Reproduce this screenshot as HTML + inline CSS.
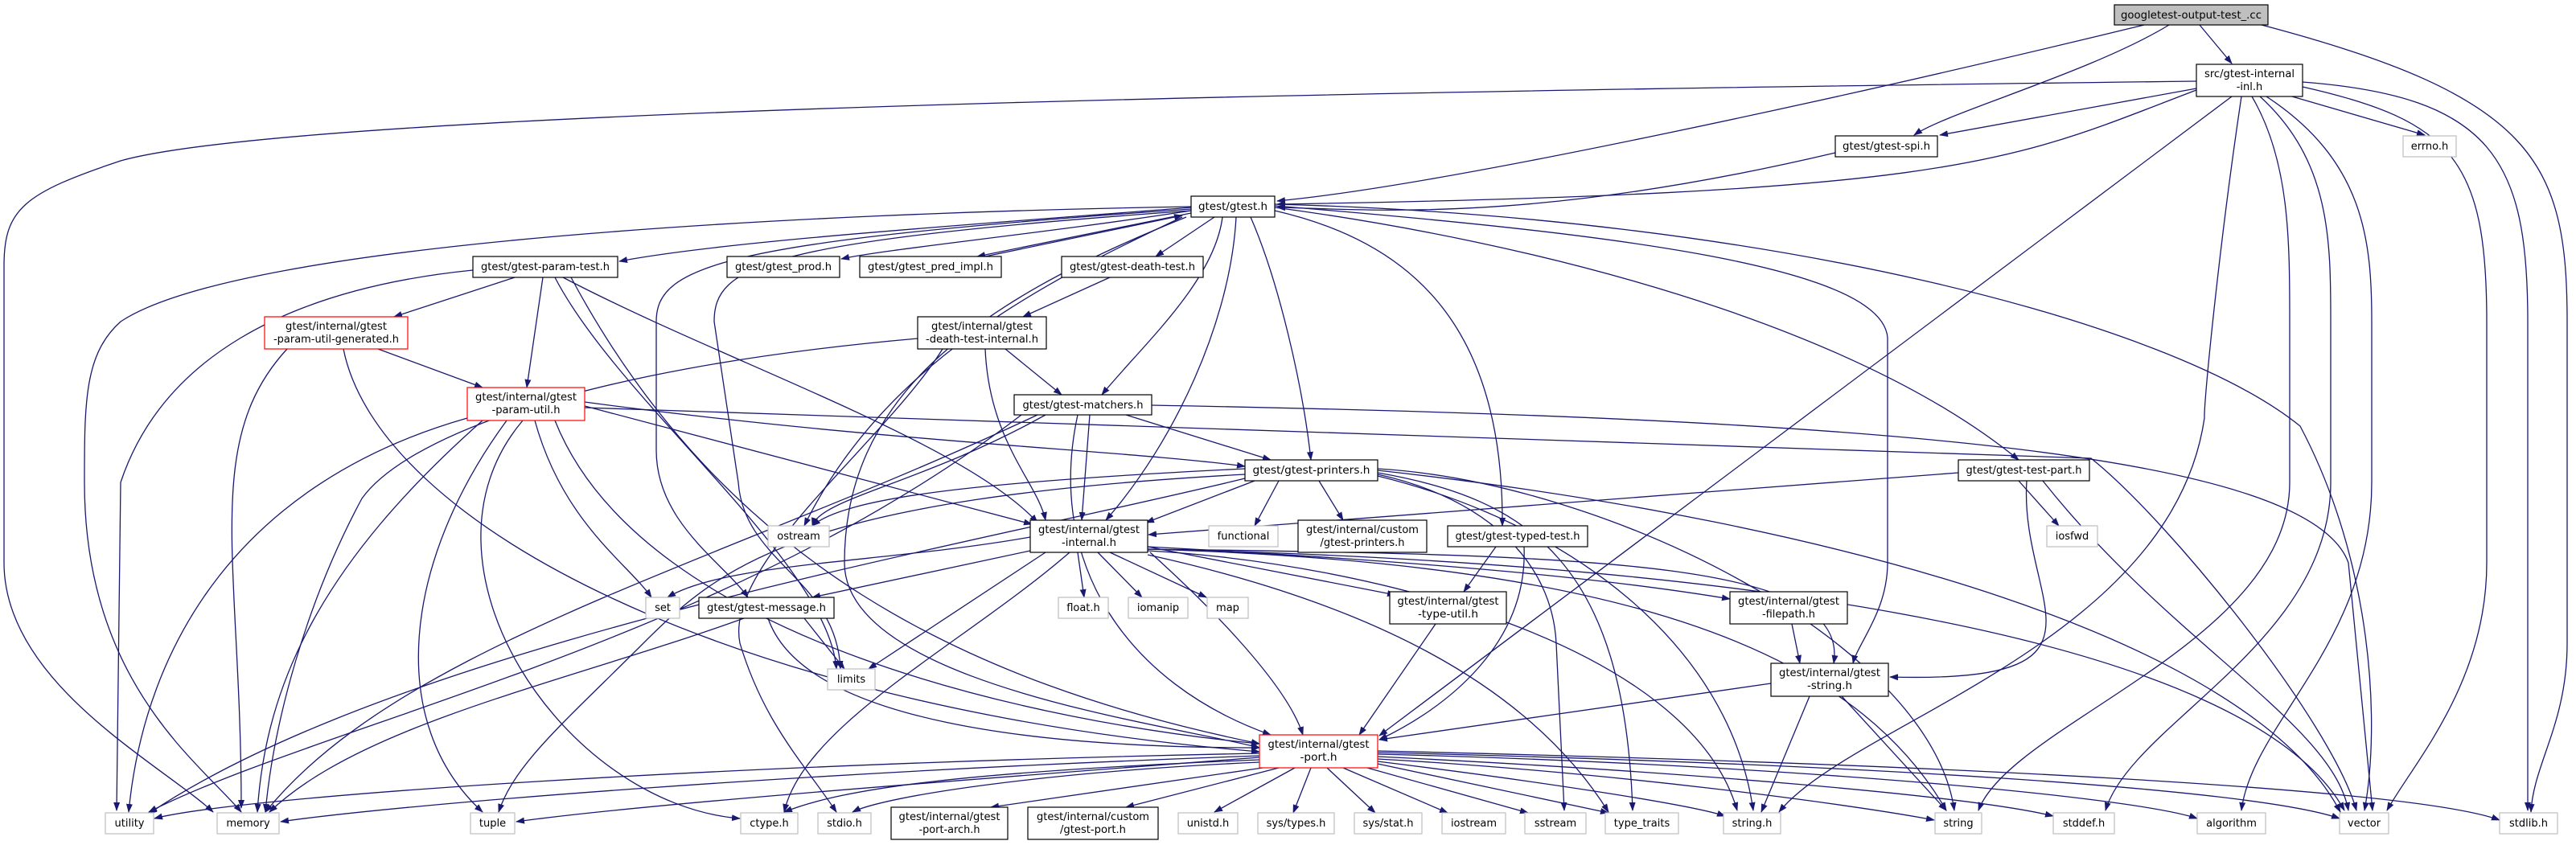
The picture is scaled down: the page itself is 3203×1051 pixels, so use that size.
<!DOCTYPE html>
<html><head><meta charset="utf-8"><style>
html,body{margin:0;padding:0;background:#fff;}
svg{display:block}
text{font-family:"DejaVu Sans","Liberation Sans",sans-serif;font-size:13px;fill:#000}
.e{fill:none;stroke:#191970;stroke-width:1.3;marker-end:url(#a)}
.n{fill:#fff;stroke:#000;stroke-width:1.2}
.g{fill:#fff;stroke:#bfbfbf;stroke-width:1.2}
.r{fill:#fff;stroke:#ff0000;stroke-width:1.2}
</style></head><body>
<svg width="3203" height="1051" viewBox="0 0 3203 1051" xmlns="http://www.w3.org/2000/svg">
<defs><marker id="a" markerUnits="userSpaceOnUse" markerWidth="11" markerHeight="8" refX="10" refY="4" orient="auto"><path d="M0,0 L11,4 L0,8 z" fill="#191970"/></marker></defs>
<g>
<path class="e" d="M2666,31 C2300,120 1800,230 1588,250"/>
<path class="e" d="M2697,31 C2600,90 2420,140 2380,168"/>
<path class="e" d="M2735,31 L2775,79"/>
<path class="e" d="M2812,31 C3150,120 3192,200 3192,400 L3192,800 C3192,900 3150,950 3147,1010"/>
<path class="e" d="M2731,101 C2000,110 400,130 150,200 C30,240 5,260 5,330 L5,700 C5,850 200,950 265,1010"/>
<path class="e" d="M2731,112 C2500,200 2450,240 1588,254"/>
<path class="e" d="M2731,110 L2412,168"/>
<path class="e" d="M2850,120 L3015,168"/>
<path class="e" d="M2775,120 L1715,915"/>
<path class="e" d="M2787,120 C2760,300 2740,500 2741,520 C2700,800 2300,900 2212,1010"/>
<path class="e" d="M2800,120 C2847,200 2847,300 2847,400 L2847,600 C2847,800 2500,900 2460,1008"/>
<path class="e" d="M2810,120 C2898,200 2898,300 2898,400 L2898,600 C2898,800 2650,900 2618,1008"/>
<path class="e" d="M2818,120 C2940,200 2949,300 2949,400 L2949,600 C2949,800 2800,900 2787,1008"/>
<path class="e" d="M2863,108 C3050,150 3092,200 3092,400 L3092,700 C3092,850 3000,950 2968,1008"/>
<path class="e" d="M2863,102 C3100,120 3143,200 3143,400 L3143,1008"/>
<path class="e" d="M2282,190 C1900,280 1700,260 1588,258"/>
<path class="e" d="M1481,258 C1200,280 900,300 770,325"/>
<path class="e" d="M1481,262 C1300,290 1100,310 1046,322"/>
<path class="e" d="M1481,265 L1215,319"/>
<path class="e" d="M1225,319 L1470,268"/>
<path class="e" d="M1510,270 L1437,319"/>
<path class="e" d="M1520,270 C1510,350 1420,430 1370,491"/>
<path class="e" d="M1537,270 C1530,400 1460,550 1375,647"/>
<path class="e" d="M1555,270 C1590,350 1620,480 1630,572"/>
<path class="e" d="M1585,262 C1750,300 1870,400 1868,654"/>
<path class="e" d="M1585,258 C1900,300 2300,400 2510,572"/>
<path class="e" d="M1585,256 C2000,290 2340,330 2347,420 L2347,700 C2347,760 2310,800 2304,825"/>
<path class="e" d="M1585,254 C2200,270 2700,400 2860,530 C2950,700 2960,900 2940,1008"/>
<path class="e" d="M1481,257 C1000,265 300,300 150,400 C105,440 105,500 105,600 C105,850 250,950 300,1010"/>
<path class="e" d="M1481,260 C900,300 816,330 816,400 L816,560 C816,650 900,700 930,743"/>
<path class="e" d="M1481,262 C950,300 888,330 888,400 L918,600 C925,700 1040,720 1045,832"/>
<path class="e" d="M1470,270 C1300,350 1100,450 1000,654"/>
<path class="e" d="M1475,270 C1200,380 1050,500 1050,700 C1050,850 1450,900 1566,930"/>
<path class="e" d="M1380,345 L1272,394"/>
<path class="e" d="M1250,434 L1320,491"/>
<path class="e" d="M1225,434 C1230,550 1290,600 1300,647"/>
<path class="e" d="M1141,421 C700,460 500,550 450,620 C380,750 340,900 330,1010"/>
<path class="e" d="M1172,434 C1100,550 900,700 920,800 C950,900 1000,950 1040,1010"/>
<path class="e" d="M640,345 L490,394"/>
<path class="e" d="M675,345 L655,482"/>
<path class="e" d="M700,345 C900,450 1200,550 1290,650"/>
<path class="e" d="M588,336 C350,360 200,450 150,600 L145,1008"/>
<path class="e" d="M690,345 C770,500 1030,700 1040,832"/>
<path class="e" d="M710,345 C900,700 1200,850 1566,925"/>
<path class="e" d="M470,434 L600,482"/>
<path class="e" d="M357,434 C250,550 300,700 300,1005"/>
<path class="e" d="M427,434 C470,650 900,880 1566,935"/>
<path class="e" d="M581,520 C300,600 180,800 160,1010"/>
<path class="e" d="M600,523 C400,700 330,850 320,1010"/>
<path class="e" d="M630,523 C500,700 480,900 600,1010"/>
<path class="e" d="M650,523 C500,700 700,1000 920,1018"/>
<path class="e" d="M665,523 C700,650 780,700 810,743"/>
<path class="e" d="M727,505 L1283,652"/>
<path class="e" d="M727,500 C1100,550 1400,560 1548,580"/>
<path class="e" d="M727,507 L2600,570 C2700,650 2900,900 2930,1008"/>
<path class="e" d="M690,523 C800,800 1300,900 1566,925"/>
<path class="e" d="M1400,516 L1580,572"/>
<path class="e" d="M1355,516 L1345,647"/>
<path class="e" d="M1300,516 C1150,600 1020,620 1010,654"/>
<path class="e" d="M1340,516 C1300,700 1400,850 1580,914"/>
<path class="e" d="M1290,516 C900,700 500,800 330,1010"/>
<path class="e" d="M1432,504 C2300,520 2870,560 2920,700 L2950,1008"/>
<path class="e" d="M1270,516 C900,800 400,900 185,1010"/>
<path class="e" d="M1548,583 C1200,600 1050,620 1010,654"/>
<path class="e" d="M1590,598 L1560,654"/>
<path class="e" d="M1640,598 L1670,647"/>
<path class="e" d="M1560,598 L1425,650"/>
<path class="e" d="M1548,590 C1000,620 900,700 800,800 C700,900 640,950 620,1010"/>
<path class="e" d="M1548,595 C1200,680 500,800 185,1012"/>
<path class="e" d="M1713,583 C2000,600 2400,800 2430,1008"/>
<path class="e" d="M1713,585 C2300,650 2800,800 2910,1010"/>
<path class="e" d="M1713,588 C1900,620 2020,700 2030,1008"/>
<path class="e" d="M1713,590 C1850,620 1930,700 1935,800 L1945,1008"/>
<path class="e" d="M1713,592 C1950,650 2150,800 2180,1008"/>
<path class="e" d="M2435,588 L1428,665"/>
<path class="e" d="M2510,598 L2560,654"/>
<path class="e" d="M2520,598 C2510,750 2650,850 2350,842"/>
<path class="e" d="M2540,598 C2700,800 2900,900 2920,1008"/>
<path class="e" d="M1281,668 C1100,700 900,700 830,743"/>
<path class="e" d="M1281,685 L1010,743"/>
<path class="e" d="M1300,687 L1080,832"/>
<path class="e" d="M1340,687 L1348,743"/>
<path class="e" d="M1365,687 L1420,743"/>
<path class="e" d="M1380,687 L1500,743"/>
<path class="e" d="M1427,680 L1735,740"/>
<path class="e" d="M1427,680 C1800,700 2000,720 2151,745"/>
<path class="e" d="M1427,683 C2000,690 2300,700 2280,825"/>
<path class="e" d="M1427,685 C1700,700 2100,800 2160,1008"/>
<path class="e" d="M1427,683 C2000,700 2300,800 2420,1008"/>
<path class="e" d="M1427,683 C2200,700 2800,800 2915,1008"/>
<path class="e" d="M1430,687 C1500,750 1600,850 1620,914"/>
<path class="e" d="M1330,687 C1200,800 1000,900 975,1010"/>
<path class="e" d="M1427,690 C1700,750 1900,850 2000,1010"/>
<path class="e" d="M1000,769 L1050,832"/>
<path class="e" d="M925,769 C700,850 450,900 335,1010"/>
<path class="e" d="M955,769 C1000,900 1300,930 1566,930"/>
<path class="e" d="M1860,680 L1820,736"/>
<path class="e" d="M1895,680 C1900,800 1800,880 1715,920"/>
<path class="e" d="M1785,776 L1690,914"/>
<path class="e" d="M2228,776 L2238,825"/>
<path class="e" d="M2202,850 L1715,920"/>
<path class="e" d="M2250,866 L2190,1010"/>
<path class="e" d="M2290,866 L2420,1008"/>
<path class="e" d="M1566,937 C900,950 300,990 192,1018"/>
<path class="e" d="M1566,940 C1000,960 500,1000 349,1022"/>
<path class="e" d="M1566,942 C1200,970 800,1000 642,1022"/>
<path class="e" d="M1566,945 C1200,960 1050,980 975,1010"/>
<path class="e" d="M1566,948 C1300,960 1100,990 1060,1010"/>
<path class="e" d="M1570,955 L1232,1004"/>
<path class="e" d="M1590,955 L1400,1004"/>
<path class="e" d="M1610,955 L1510,1010"/>
<path class="e" d="M1630,955 L1608,1011"/>
<path class="e" d="M1650,955 L1710,1011"/>
<path class="e" d="M1670,955 L1800,1011"/>
<path class="e" d="M1700,955 L1900,1011"/>
<path class="e" d="M1713,950 L2000,1011"/>
<path class="e" d="M1713,947 C1900,970 2100,1000 2145,1015"/>
<path class="e" d="M1713,944 C2000,960 2300,1000 2405,1020"/>
<path class="e" d="M1713,941 C2100,960 2450,990 2553,1015"/>
<path class="e" d="M1713,938 C2200,950 2650,990 2732,1018"/>
<path class="e" d="M1713,936 C2300,950 2800,980 2909,1018"/>
<path class="e" d="M1713,934 C2400,950 3000,980 3108,1020"/>
</g>
<g>
<rect x="2629" y="6" width="191" height="25" fill="#bfbfbf" stroke="#000" stroke-width="1.2"/>
<text x="2724.5" y="23" text-anchor="middle" textLength="175" lengthAdjust="spacingAndGlyphs">googletest-output-test_.cc</text>
<rect class="n" x="2731" y="80" width="132" height="40"/>
<text x="2797" y="96" text-anchor="middle" textLength="112" lengthAdjust="spacingAndGlyphs">src/gtest-internal</text>
<text x="2797" y="112" text-anchor="middle">-inl.h</text>
<rect class="n" x="2282" y="169" width="127" height="26"/>
<text x="2345.5" y="186" text-anchor="middle" textLength="109" lengthAdjust="spacingAndGlyphs">gtest/gtest-spi.h</text>
<rect class="g" x="2988" y="169" width="66" height="26"/>
<text x="3021" y="186" text-anchor="middle">errno.h</text>
<rect class="n" x="1481" y="244" width="104" height="26"/>
<text x="1533" y="261" text-anchor="middle" textLength="86" lengthAdjust="spacingAndGlyphs">gtest/gtest.h</text>
<rect class="n" x="588" y="319" width="180" height="26"/>
<text x="678" y="336" text-anchor="middle" textLength="160" lengthAdjust="spacingAndGlyphs">gtest/gtest-param-test.h</text>
<rect class="n" x="904" y="319" width="140" height="26"/>
<text x="974" y="336" text-anchor="middle" textLength="120" lengthAdjust="spacingAndGlyphs">gtest/gtest_prod.h</text>
<rect class="n" x="1069" y="319" width="176" height="26"/>
<text x="1157" y="336" text-anchor="middle" textLength="156" lengthAdjust="spacingAndGlyphs">gtest/gtest_pred_impl.h</text>
<rect class="n" x="1320" y="319" width="176" height="26"/>
<text x="1408" y="336" text-anchor="middle" textLength="156" lengthAdjust="spacingAndGlyphs">gtest/gtest-death-test.h</text>
<rect class="r" x="329" y="394" width="178" height="40"/>
<text x="418" y="410" text-anchor="middle" textLength="126" lengthAdjust="spacingAndGlyphs">gtest/internal/gtest</text>
<text x="418" y="426" text-anchor="middle" textLength="156" lengthAdjust="spacingAndGlyphs">-param-util-generated.h</text>
<rect class="n" x="1141" y="394" width="160" height="40"/>
<text x="1221" y="410" text-anchor="middle" textLength="126" lengthAdjust="spacingAndGlyphs">gtest/internal/gtest</text>
<text x="1221" y="426" text-anchor="middle" textLength="140" lengthAdjust="spacingAndGlyphs">-death-test-internal.h</text>
<rect class="r" x="581" y="482" width="146" height="41"/>
<text x="654" y="498" text-anchor="middle" textLength="126" lengthAdjust="spacingAndGlyphs">gtest/internal/gtest</text>
<text x="654" y="514" text-anchor="middle" textLength="85" lengthAdjust="spacingAndGlyphs">-param-util.h</text>
<rect class="n" x="1261" y="491" width="171" height="25"/>
<text x="1346.5" y="508" text-anchor="middle" textLength="150" lengthAdjust="spacingAndGlyphs">gtest/gtest-matchers.h</text>
<rect class="n" x="1548" y="572" width="165" height="26"/>
<text x="1630.5" y="589" text-anchor="middle" textLength="146" lengthAdjust="spacingAndGlyphs">gtest/gtest-printers.h</text>
<rect class="n" x="2435" y="572" width="163" height="26"/>
<text x="2516.5" y="589" text-anchor="middle" textLength="144" lengthAdjust="spacingAndGlyphs">gtest/gtest-test-part.h</text>
<rect class="n" x="1614" y="647" width="160" height="40"/>
<text x="1694" y="663" text-anchor="middle" textLength="140" lengthAdjust="spacingAndGlyphs">gtest/internal/custom</text>
<text x="1694" y="679" text-anchor="middle" textLength="105" lengthAdjust="spacingAndGlyphs">/gtest-printers.h</text>
<rect class="n" x="1800" y="654" width="174" height="26"/>
<text x="1887" y="671" text-anchor="middle" textLength="155" lengthAdjust="spacingAndGlyphs">gtest/gtest-typed-test.h</text>
<rect class="g" x="2545" y="654" width="63" height="26"/>
<text x="2576.5" y="671" text-anchor="middle">iosfwd</text>
<rect class="n" x="1281" y="647" width="146" height="40"/>
<text x="1354" y="663" text-anchor="middle" textLength="126" lengthAdjust="spacingAndGlyphs">gtest/internal/gtest</text>
<text x="1354" y="679" text-anchor="middle" textLength="68" lengthAdjust="spacingAndGlyphs">-internal.h</text>
<rect class="g" x="955" y="654" width="76" height="26"/>
<text x="993" y="671" text-anchor="middle">ostream</text>
<rect class="g" x="1503" y="654" width="86" height="26"/>
<text x="1546" y="671" text-anchor="middle">functional</text>
<rect class="g" x="803" y="743" width="42" height="26"/>
<text x="824" y="760" text-anchor="middle">set</text>
<rect class="n" x="869" y="743" width="168" height="26"/>
<text x="953" y="760" text-anchor="middle" textLength="148" lengthAdjust="spacingAndGlyphs">gtest/gtest-message.h</text>
<rect class="g" x="1316" y="743" width="62" height="26"/>
<text x="1347" y="760" text-anchor="middle">float.h</text>
<rect class="g" x="1403" y="743" width="74" height="26"/>
<text x="1440" y="760" text-anchor="middle">iomanip</text>
<rect class="g" x="1501" y="743" width="51" height="26"/>
<text x="1526.5" y="760" text-anchor="middle">map</text>
<rect class="n" x="1728" y="736" width="145" height="40"/>
<text x="1800.5" y="752" text-anchor="middle" textLength="126" lengthAdjust="spacingAndGlyphs">gtest/internal/gtest</text>
<text x="1800.5" y="768" text-anchor="middle" textLength="75" lengthAdjust="spacingAndGlyphs">-type-util.h</text>
<rect class="n" x="2151" y="736" width="146" height="40"/>
<text x="2224" y="752" text-anchor="middle" textLength="126" lengthAdjust="spacingAndGlyphs">gtest/internal/gtest</text>
<text x="2224" y="768" text-anchor="middle" textLength="66" lengthAdjust="spacingAndGlyphs">-filepath.h</text>
<rect class="g" x="1029" y="832" width="59" height="26"/>
<text x="1058.5" y="849" text-anchor="middle">limits</text>
<rect class="n" x="2202" y="825" width="146" height="41"/>
<text x="2275" y="841" text-anchor="middle" textLength="126" lengthAdjust="spacingAndGlyphs">gtest/internal/gtest</text>
<text x="2275" y="857" text-anchor="middle" textLength="56" lengthAdjust="spacingAndGlyphs">-string.h</text>
<rect class="r" x="1566" y="914" width="147" height="41"/>
<text x="1639.5" y="930" text-anchor="middle" textLength="126" lengthAdjust="spacingAndGlyphs">gtest/internal/gtest</text>
<text x="1639.5" y="946" text-anchor="middle" textLength="46" lengthAdjust="spacingAndGlyphs">-port.h</text>
<rect class="g" x="131" y="1011" width="60" height="26"/><text x="161" y="1028" text-anchor="middle">utility</text>
<rect class="g" x="270" y="1011" width="77" height="26"/><text x="308.5" y="1028" text-anchor="middle">memory</text>
<rect class="g" x="585" y="1011" width="55" height="26"/><text x="612.5" y="1028" text-anchor="middle">tuple</text>
<rect class="g" x="921" y="1011" width="71" height="26"/><text x="956.5" y="1028" text-anchor="middle">ctype.h</text>
<rect class="g" x="1017" y="1011" width="66" height="26"/><text x="1050" y="1028" text-anchor="middle">stdio.h</text>
<rect class="n" x="1108" y="1004" width="145" height="40"/>
<text x="1180.5" y="1020" text-anchor="middle" textLength="126" lengthAdjust="spacingAndGlyphs">gtest/internal/gtest</text>
<text x="1180.5" y="1036" text-anchor="middle" textLength="76" lengthAdjust="spacingAndGlyphs">-port-arch.h</text>
<rect class="n" x="1278" y="1004" width="162" height="40"/>
<text x="1359" y="1020" text-anchor="middle" textLength="140" lengthAdjust="spacingAndGlyphs">gtest/internal/custom</text>
<text x="1359" y="1036" text-anchor="middle" textLength="82" lengthAdjust="spacingAndGlyphs">/gtest-port.h</text>
<rect class="g" x="1465" y="1011" width="74" height="26"/><text x="1502" y="1028" text-anchor="middle">unistd.h</text>
<rect class="g" x="1564" y="1011" width="95" height="26"/><text x="1611.5" y="1028" text-anchor="middle">sys/types.h</text>
<rect class="g" x="1684" y="1011" width="84" height="26"/><text x="1726" y="1028" text-anchor="middle">sys/stat.h</text>
<rect class="g" x="1793" y="1011" width="79" height="26"/><text x="1832.5" y="1028" text-anchor="middle">iostream</text>
<rect class="g" x="1896" y="1011" width="76" height="26"/><text x="1934" y="1028" text-anchor="middle">sstream</text>
<rect class="g" x="1996" y="1011" width="91" height="26"/><text x="2041.5" y="1028" text-anchor="middle">type_traits</text>
<rect class="g" x="2143" y="1011" width="71" height="26"/><text x="2178.5" y="1028" text-anchor="middle">string.h</text>
<rect class="g" x="2406" y="1011" width="58" height="26"/><text x="2435" y="1028" text-anchor="middle">string</text>
<rect class="g" x="2553" y="1011" width="76" height="26"/><text x="2591" y="1028" text-anchor="middle">stddef.h</text>
<rect class="g" x="2732" y="1011" width="85" height="26"/><text x="2774.5" y="1028" text-anchor="middle">algorithm</text>
<rect class="g" x="2909" y="1011" width="61" height="26"/><text x="2939.5" y="1028" text-anchor="middle">vector</text>
<rect class="g" x="3108" y="1011" width="72" height="26"/><text x="3144" y="1028" text-anchor="middle">stdlib.h</text>
</g>
</svg>
</body></html>
